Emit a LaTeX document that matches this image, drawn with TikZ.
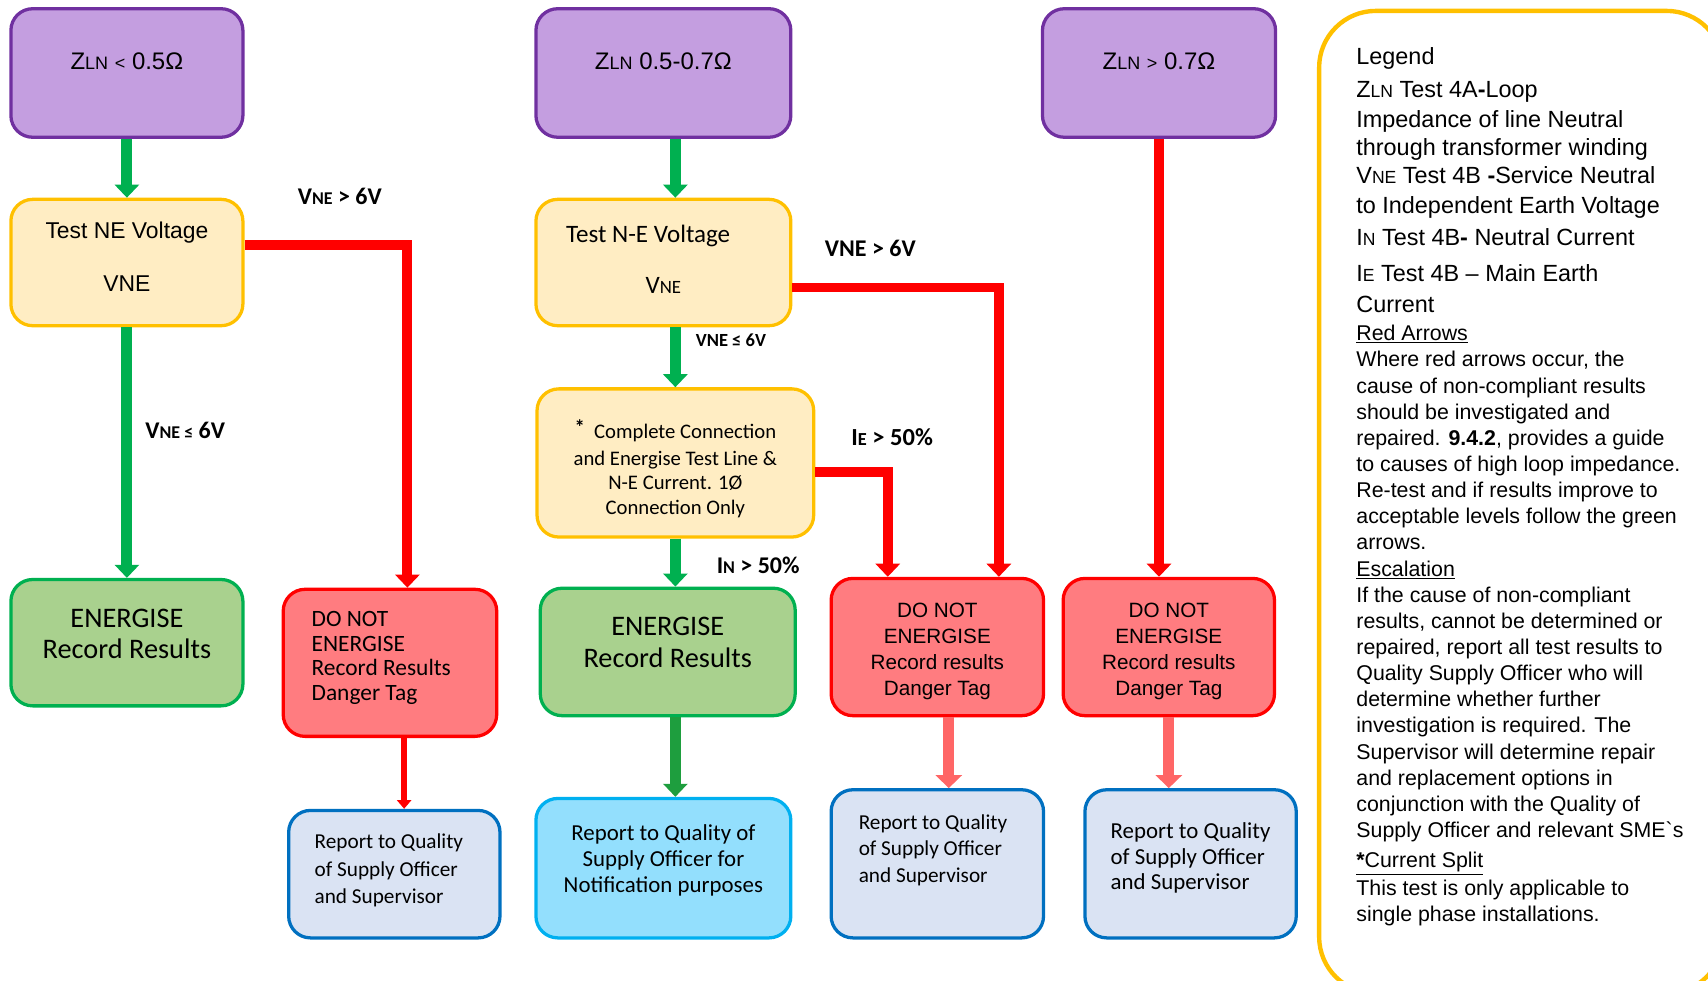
\documentclass[tikz,border=0pt]{standalone}
\usepackage{fontspec}
\setmainfont{Liberation Sans}
\newfontfamily\calibri{Carlito}
\usetikzlibrary{arrows.meta}

\definecolor{zfill}{HTML}{C49EE0}
\definecolor{zline}{HTML}{7030A0}
\definecolor{testfill}{HTML}{FFEDC3}
\definecolor{testline}{HTML}{FFC000}
\definecolor{okfill}{HTML}{A9D18E}
\definecolor{okline}{HTML}{00B050}
\definecolor{okdark}{HTML}{1E9E3E}
\definecolor{stopfill}{HTML}{FF7C80}
\definecolor{stopline}{HTML}{FF0000}
\definecolor{salmon}{HTML}{FF6666}
\definecolor{reportfill}{HTML}{DAE3F3}
\definecolor{reportline}{HTML}{0070C0}
\definecolor{notifyfill}{HTML}{93DFFD}
\definecolor{notifyline}{HTML}{00B0F0}

\newcommand{\fs}[2]{\fontsize{#1}{#2}\selectfont}
\newcommand{\lowcap}[1]{{\fontsize{0.75em}{1em}\selectfont #1}}
\newcommand{\lift}[1]{\rule[-#1]{0pt}{#1}}
\newcommand{\drop}[1]{\rule{0pt}{#1}}

\begin{document}
\begin{tikzpicture}[x=1pt,y=-1pt,
	box/.style={draw,line width=3pt,rounded corners=20pt,inner sep=0pt,align=center},
	zbox/.style={box,fill=zfill,draw=zline,minimum height=118pt,text depth=22pt,font=\fs{22}{26}},
	testbox/.style={box,fill=testfill,draw=testline},
	okbox/.style={box,fill=okfill,draw=okline,font=\calibri\fs{26}{29}},
	stopbox/.style={box,fill=stopfill,draw=stopline},
	reportbox/.style={box,fill=reportfill,draw=reportline},
	cond/.style={font=\calibri\bfseries\fs{22}{26}},
	go/.style={draw=okline,line width=10pt,-{Triangle[width=22pt,length=12pt]}},
	fail/.style={draw=stopline,line width=9pt,-{Triangle[width=22pt,length=12pt]}},
	report/.style={draw=salmon,line width=10pt,-{Triangle[width=24pt,length=12pt]}}]
	\useasboundingbox (0,0) rectangle (1568,900);
	\def\stoptext{\drop{21.5pt}DO NOT\\ENERGISE\\Record results\\Danger Tag}
	\def\reporttext{Report to Quality\\of Supply Officer\\and Supervisor}
	% column 1
		\node [zbox,minimum width=213pt] (z1) at (116.5,67) {Z\lowcap{LN} \lowcap{<} 0.5Ω};
		\node [testbox,minimum width=213pt,minimum height=116pt,font=\fs{21}{25}] (t1) at (116.5,241) {Test NE Voltage\\[24pt]VNE\lift{11pt}};
		\node [okbox,minimum width=213pt,minimum height=116pt] (e1) at (116.5,590) {ENERGISE\\Record Results\lift{16pt}};
		\node [stopbox,minimum width=196pt,minimum height=135pt,align=left,font=\calibri\fs{21.5}{22.7}] (d1) at (358,608.5) {DO NOT\\ENERGISE\\Record Results\rule{16pt}{0pt}\\Danger Tag\lift{12.5pt}};
		\node [reportbox,minimum width=194pt,minimum height=117pt,align=left,font=\calibri\fs{19.5}{25}] (r1) at (362,802.5) {Report to Quality\hspace*{10pt}\\of Supply Officer\\and Supervisor\lift{10pt}};
	% column 2
		\node [zbox,minimum width=234pt] (z2) at (609,67) {Z\lowcap{LN} 0.5-0.7Ω};
		\node [testbox,minimum width=234pt,minimum height=116pt,font=\calibri\fs{23}{25}] (t2) at (609,241) {Test N-E Voltage\hspace*{28pt}\\[21pt]V\lowcap{NE}\lift{6pt}};
		\node [testbox,minimum width=254pt,minimum height=136pt,font=\calibri\fs{19}{22.5}] (c2) at (620,425) {\drop{27.5pt}\raisebox{4pt}{\textbf{*}}\ \ Complete Connection\\[2pt]and Energise Test Line \&\\N-E Current. 1Ø\\Connection Only};
		\node [okbox,minimum width=234pt,minimum height=117pt] (e2) at (613,598.5) {ENERGISE\\Record Results\lift{18pt}};
		\node [box,fill=notifyfill,draw=notifyline,minimum width=234pt,minimum height=128pt,font=\calibri\fs{21}{24}] (b2) at (609,797) {Report to Quality of\\Supply Officer for\\Notification purposes\lift{18pt}};
	% column 3
		\node [stopbox,minimum width=195pt,minimum height=126pt,font=\fs{19}{24}] (d2) at (860.5,594) {\stoptext};
		\node [reportbox,minimum width=195pt,minimum height=136pt,align=left,font=\calibri\fs{19.5}{24}] (r2) at (860.5,793) {Report to Quality\hspace*{8pt}\\of Supply Officer\\and Supervisor\lift{28pt}};
	% column 4
		\node [zbox,minimum width=214pt] (z3) at (1064,67) {Z\lowcap{LN} \lowcap{>} 0.7Ω};
		\node [stopbox,minimum width=194pt,minimum height=126pt,font=\fs{19}{24}] (d3) at (1073,594) {\stoptext};
		\node [reportbox,minimum width=194pt,minimum height=136pt,align=left,font=\calibri\fs{21}{23.5}] (r3) at (1093,793) {\reporttext\lift{14pt}};
	% conditions
		\node [cond] (gt1) at (312,180) {V\lowcap{NE} > 6V};
		\node [cond] (le1) at (170,395) {V\lowcap{NE ≤} 6V};
		\node [cond] (gt2) at (799,228) {VNE > 6V};
		\node [cond,font=\calibri\bfseries\fs{17}{20}] (le2) at (671,312) {VNE ≤ 6V};
		\node [cond,font=\calibri\bfseries\fs{22.5}{26}] (iepct) at (819,401) {I\lowcap{E} > 50\%};
		\node [cond] (inpct) at (696,519) {I\lowcap{N} > 50\%};
	% green arrows
		\draw [go] (z1) -- (t1);
		\draw [go] (t1) -- (e1);
		\draw [go] (z2.south -| c2.north) -- (t2.north -| c2.north);
		\draw [go] (t2.south -| c2.north) -- (c2.north);
		\draw [go] (c2.south) -- (c2.south |- e2.north);
		\draw [go,draw=okdark] (e2.south -| c2.south) -- (b2.north -| c2.south);
	% red arrows
		\draw [fail] ([yshift=16pt]t1.east) -| ([xshift=16pt]d1.north);
		\draw [fail] ([yshift=-23pt]t2.east) -| ([xshift=56.5pt]d2.north);
		\draw [fail] ([yshift=-8pt]c2.east) -| ([xshift=-45.5pt]d2.north);
		\draw [fail] (z3.south) -- (z3.south |- d3.north);
		\draw [fail,line width=5pt,-{Triangle[width=13pt,length=8pt]}] ([xshift=13pt]d1.south) -- ([xshift=13pt]d1.south |- r1.north);
		\draw [report] ([xshift=10.5pt]d2.south) -- ([xshift=10.5pt]d2.south |- r2.north);
		\draw [report] (d3.south) -- (d3.south |- r3.north);
	% legend
		\draw [draw=testline,line width=4pt,rounded corners=52pt] (1211,10) rectangle (1582,912);
		\node [anchor=north west,inner sep=0pt,align=left,font=\fs{19.6}{24}] (legend) at (1245,43) {%
			{\fs{21.5}{24}Legend}\\[7pt]
			{\fs{21.5}{24}Z\lowcap{LN} Test 4A\textbf{-}Loop}\\[3pt]
			{\fs{21.5}{24}Impedance of line Neutral}\\[2pt]
			{\fs{21.5}{24}through transformer winding}\\[2pt]
			{\fs{21.5}{24}V\lowcap{NE} Test 4B \textbf{-}Service Neutral}\\[3pt]
			{\fs{21.5}{24}to Independent Earth Voltage}\\[6pt]
			{\fs{21.5}{24}I\lowcap{N} Test 4B\textbf{-} Neutral Current}\\[9pt]
			{\fs{21.5}{24}I\lowcap{E} Test 4B -- Main Earth}\\[4pt]
			{\fs{21.5}{24}Current}\\[2pt]
			\underline{Red Arrows}\\
			Where red arrows occur, the\\
			cause of non-compliant results\\
			should be investigated and\\
			repaired. \textbf{9.4.2}, provides a guide\\
			to causes of high loop impedance.\\
			Re-test and if results improve to\\
			acceptable levels follow the green\\
			arrows.\\
			\underline{Escalation}\\
			If the cause of non-compliant\\
			results, cannot be determined or\\
			repaired, report all test results to\\
			Quality Supply Officer who will\\
			determine whether further\\
			investigation is required. The\\
			Supervisor will determine repair\\
			and replacement options in\\
			conjunction with the Quality of\\
			Supply Officer and relevant SME\textasciigrave s\\[4pt]
			\underline{\textbf{*}Current Split}\\[1pt]
			This test is only applicable to\\
			single phase installations.};
\end{tikzpicture}
\end{document}
